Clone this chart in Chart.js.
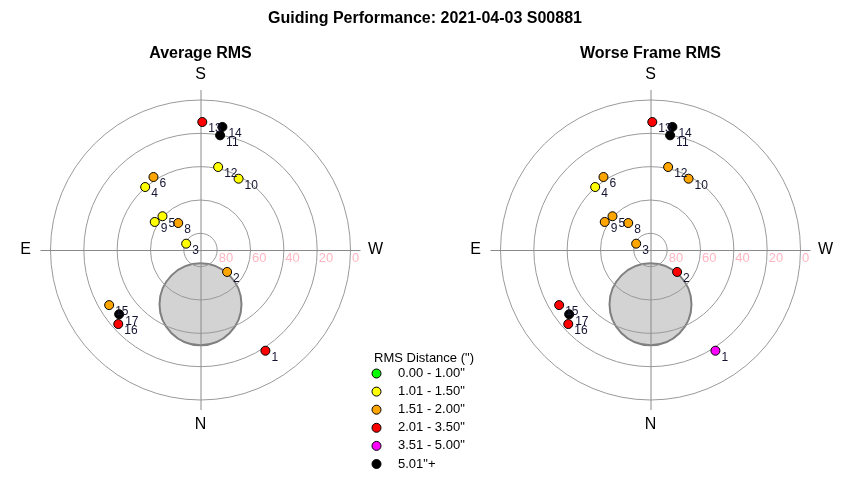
<!DOCTYPE html>
<html>
<head>
<meta charset="utf-8">
<script src="https://cdn.jsdelivr.net/npm/chart.js@4"></script>
<style>
html,body{margin:0;padding:0;background:#fff;}
#c{display:block;}
</style>
</head>
<body>
<canvas id="c" width="850" height="480"></canvas>
<script>
// ---------------- data ----------------
const chartTitle = 'Guiding Performance: 2021-04-03 S00881';
const plotTitles = ['Average RMS', 'Worse Frame RMS'];
const frames   = [1, 2, 3, 4, 5, 6, 8, 9, 10, 11, 12, 13, 14, 15, 16, 17];
const azimuth  = [327.2, 309.5, 113.8, 138.7, 131.6, 147.2, 140.4, 121.5, 208.1, 189.7, 192.0, 180.8, 190.1, 58.9, 48.0, 51.7];
const altitude = [18.1, 69.3, 80.6, 39.7, 59.5, 37.9, 69.0, 57.8, 41.5, 20.2, 39.1, 13.2, 15.0, 26.0, 23.6, 27.8];
// RMS category index per frame (index into binLabels)
const avgBin   = [3, 2, 1, 1, 1, 2, 2, 1, 1, 5, 1, 3, 5, 2, 3, 5];
const worstBin = [4, 3, 2, 1, 2, 2, 2, 2, 2, 5, 2, 3, 5, 3, 3, 5];
const binLabels = ['0.00 - 1.00"', '1.01 - 1.50"', '1.51 - 2.00"', '2.01 - 3.50"', '3.51 - 5.00"', '5.01"+'];
const binColors = ['#00ff00', '#ffff00', '#ffa500', '#ff0000', '#ff00ff', '#000000'];
const legendTitle = 'RMS Distance (")';
const ringAltitudes = [80, 60, 40, 20, 0];
const ringLabels = ['80', '60', '40', '20', '0'];
const compass = ['S', 'N', 'E', 'W'];
// excluded zone (altitude / azimuth of centre, angular radius, degrees)
const zoneAlt = 57.4, zoneAz = 0, zoneRadius = 24.6;

// ---------------- geometry helpers ----------------
const plotOffset = [0, 270];           // data-space x of each plot centre
const K = 150 / 90;                    // pixels per degree
const toXY = (az, alt, cx) => {
  const r = 90 - alt, a = az * Math.PI / 180;
  return { x: cx - r * Math.sin(a), y: -r * Math.cos(a) };
};
const makeData = (ox) => frames.map((f, i) => toXY(azimuth[i], altitude[i], ox));
const FONT = '"Liberation Sans", Arial, Helvetica, sans-serif';

const polarPlugin = {
  id: 'polarDecor',
  beforeDatasetsDraw(chart) {
    const ctx = chart.ctx, xs = chart.scales.x, ys = chart.scales.y;
    const px = v => xs.getPixelForValue(v), py = v => ys.getPixelForValue(v);
    const k = px(1) - px(0);
    ctx.save();
    plotOffset.forEach((ox, p) => {
      const cx = px(ox), cy = py(0);
      // exclusion zone
      const z = toXY(zoneAz, zoneAlt, ox);
      ctx.beginPath();
      ctx.arc(px(z.x), py(z.y), zoneRadius * k, 0, Math.PI * 2);
      ctx.fillStyle = '#d3d3d3';
      ctx.fill();
      ctx.lineWidth = 2;
      ctx.strokeStyle = '#808080';
      ctx.stroke();
      // rings
      ctx.lineWidth = 1;
      ctx.strokeStyle = '#9a9a9a';
      ringAltitudes.forEach(a => {
        ctx.beginPath();
        ctx.arc(cx, cy, (90 - a) * k, 0, Math.PI * 2);
        ctx.stroke();
      });
      // axes
      ctx.strokeStyle = '#8a8a8a';
      const L = 96 * k;
      ctx.beginPath();
      ctx.moveTo(cx - L, cy + 0.5); ctx.lineTo(cx + L, cy + 0.5);
      ctx.moveTo(cx + 0.5, cy - L); ctx.lineTo(cx + 0.5, cy + L);
      ctx.stroke();
      // ring labels
      ctx.fillStyle = '#ffb6c1';
      ctx.font = '13px ' + FONT;
      ctx.textAlign = 'left';
      ctx.textBaseline = 'middle';
      ringAltitudes.forEach((a, i) => {
        ctx.fillText(ringLabels[i], cx + (90 - a) * k + 1.5, cy + 8.5);
      });
      // compass
      ctx.fillStyle = '#000';
      ctx.font = '16px ' + FONT;
      ctx.textAlign = 'center';
      const d = 105 * k;
      ctx.fillText(compass[0], cx, cy - d);
      ctx.fillText(compass[1], cx, cy + d);
      ctx.fillText(compass[2], cx - d, cy);
      ctx.fillText(compass[3], cx + d, cy);
      // plot title
      ctx.font = 'bold 16px ' + FONT;
      ctx.fillText(plotTitles[p], cx, 54);
    });
    // main title
    ctx.font = 'bold 16px ' + FONT;
    ctx.textAlign = 'center';
    ctx.fillText(chartTitle, chart.width / 2, 19);
    ctx.restore();
  },
  afterDatasetsDraw(chart) {
    const ctx = chart.ctx;
    ctx.save();
    ctx.font = '12px ' + FONT;
    ctx.fillStyle = '#141432';
    ctx.textAlign = 'left';
    ctx.textBaseline = 'middle';
    chart.data.datasets.forEach((ds, di) => {
      const meta = chart.getDatasetMeta(di);
      meta.data.forEach((pt, i) => {
        ctx.fillText(String(frames[i]), pt.x + 6, pt.y + 7);
      });
    });
    // legend
    ctx.fillStyle = '#000';
    ctx.font = '13px ' + FONT;
    ctx.fillText(legendTitle, 374, 358);
    binLabels.forEach((lab, i) => {
      const y = 373.5 + i * 18.1;
      ctx.beginPath();
      ctx.arc(376.5, y, 4.5, 0, Math.PI * 2);
      ctx.fillStyle = binColors[i];
      ctx.fill();
      ctx.lineWidth = 1;
      ctx.strokeStyle = '#000';
      ctx.stroke();
      ctx.fillStyle = '#000';
      ctx.fillText(lab, 398, y);
    });
    ctx.restore();
  }
};

new Chart(document.getElementById('c'), {
  type: 'scatter',
  data: {
    datasets: [
      { data: makeData(plotOffset[0]), pointBackgroundColor: avgBin.map(b => binColors[b]) },
      { data: makeData(plotOffset[1]), pointBackgroundColor: worstBin.map(b => binColors[b]) }
    ].map(d => Object.assign(d, { pointRadius: 4.5, pointHoverRadius: 4.5, pointBorderColor: '#000', pointBorderWidth: 1 }))
  },
  options: {
    responsive: false,
    animation: false,
    events: [],
    layout: { padding: 0, autoPadding: false },
    plugins: { legend: { display: false }, tooltip: { enabled: false }, title: { display: false } },
    scales: {
      x: { type: 'linear', display: false, min: -200.5 / K, max: (850 - 200.5) / K },
      y: { type: 'linear', display: false, min: -230 / K, max: 250 / K }
    }
  },
  plugins: [polarPlugin]
});
</script>
</body>
</html>
